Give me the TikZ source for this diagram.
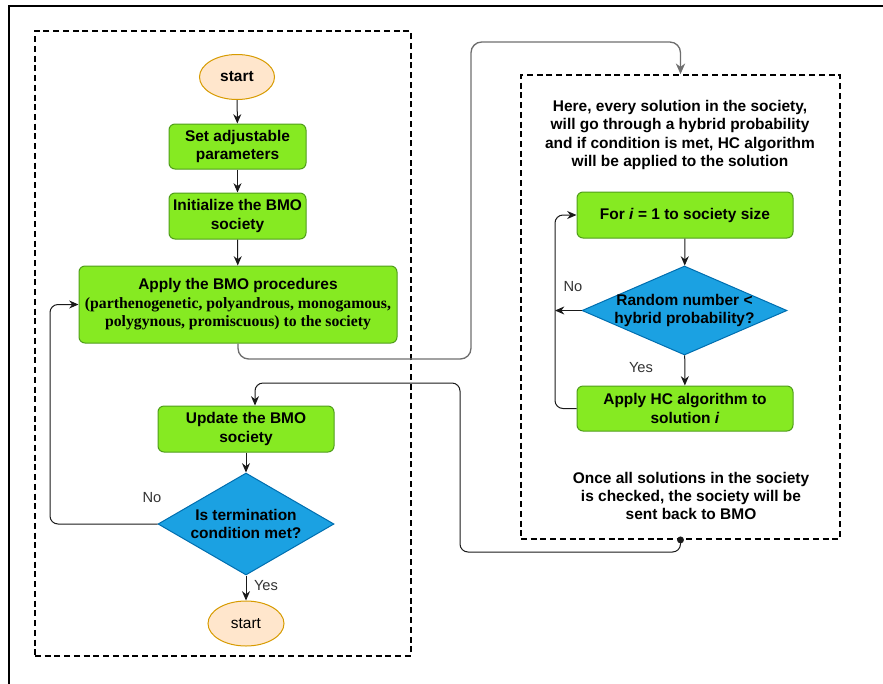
\documentclass[tikz,border=0pt]{standalone}
\usepackage{fontspec}
\setmainfont{Liberation Sans}
\newfontfamily\serifb{Liberation Serif}
\usetikzlibrary{shapes.geometric,arrows.meta,calc}
\newdimen\px \px=0.75pt
\definecolor{gfill}{HTML}{86EA22}
\definecolor{gdraw}{HTML}{4F9E1A}
\definecolor{bfill}{HTML}{1BA1E2}
\definecolor{bdraw}{HTML}{006EAF}
\definecolor{ofill}{HTML}{FFE6CC}
\definecolor{odraw}{HTML}{D79B00}
\definecolor{gline}{HTML}{6E6E6E}
\definecolor{lbl}{HTML}{333333}
\definecolor{cline}{HTML}{1A1A1A}
\tikzset{
  txtf/.style={font=\fontsize{11.6}{13.8}\selectfont\bfseries},
  procbox/.style={rectangle, rounded corners=4.5pt, draw=gdraw, fill=gfill, line width=0.75pt, align=center, inner sep=0pt, txtf},
  decision/.style={diamond, draw=bdraw, fill=bfill, line width=0.75pt, inner sep=0pt},
  dtext/.style={align=center, inner sep=0pt, txtf},
  terminal/.style={ellipse, draw=odraw, fill=ofill, line width=0.75pt, inner sep=0pt, minimum width=75\px, minimum height=45\px},
  dbox/.style={rectangle, draw=black, line width=1.35pt, dash pattern=on 4.5pt off 2.8pt, inner sep=0pt},
  arr/.style={draw=cline, line width=0.75pt, -{Stealth[length=7pt,width=6pt]}},
  garr/.style={draw=gline, line width=1pt, -{Stealth[length=8pt,width=7pt]}},
  lab/.style={text=lbl, font=\fontsize{11}{13.5}\selectfont},
}
\begin{document}
\begin{tikzpicture}[x=0.75pt, y=-0.75pt]
\useasboundingbox (0,0) rectangle (883,683);
% outer frame
\draw[line width=1.5pt] (9,690) -- (9,6) -- (890,6);
% dashed containers
\node[dbox, minimum width=376\px, minimum height=625\px] (lbox) at (223,343.5) {};
\node[dbox, minimum width=319\px, minimum height=464\px] (rbox) at (680.5,307) {};

% left flow
\node[terminal] (start) at (237,77) {\fontsize{11.6}{13.8}\selectfont\bfseries start};
\node[procbox, minimum width=137\px, minimum height=45\px] (setp) at (237.5,146.5) {Set adjustable\\parameters};
\node[procbox, minimum width=137\px, minimum height=46\px] (init) at (237.5,216) {Initialize the BMO\\society};
\node[procbox, minimum width=318\px, minimum height=77\px] (apply) at (238,304.5)
  {Apply the BMO procedures\\{\serifb\fontsize{11.8}{13.8}\selectfont\bfseries (parthenogenetic, polyandrous, monogamous,}\\{\serifb\fontsize{11.8}{13.8}\selectfont\bfseries polygynous, promiscuous) to the society}};
\node[procbox, minimum width=176\px, minimum height=46\px] (upd) at (246,429) {Update the BMO\\society};
\node[decision, minimum width=176\px, minimum height=102\px] (cond) at (246,524) {};
\node[dtext] (condt) at (cond.center) {Is termination\\condition met?};
\node[terminal, minimum width=76\px] (stop) at (246,623.5) {\fontsize{11.6}{13.8}\selectfont start};

\draw[arr] (start) -- (setp);
\draw[arr] (setp) -- (init);
\draw[arr] (init) -- (apply);
\draw[arr] (upd) -- (cond);
\draw[arr] (cond) -- (stop);
\node[lab] (lyes1) at (266,586) {Yes};
\node[lab] (lno1) at (152,498) {No};
\coordinate (lc1) at (50,524);
\draw[arr, rounded corners=6pt] (cond.west) -- (lc1) |- (apply.west);

% right flow
\node[txtf, align=center] (txt1) at (680,135)
  {Here, every solution in the society,\\will go through a hybrid probability\\and if condition is met, HC algorithm\\will be applied to the solution};
\node[procbox, minimum width=216\px, minimum height=46\px] (forb) at (685,215) {For \textit{i} = 1 to society size};
\node[decision, minimum width=205\px, minimum height=89\px] (rand) at (684.5,310.5) {};
\node[dtext] (randt) at (rand.center) {Random number \textless\\hybrid probability?};
\node[procbox, minimum width=216\px, minimum height=45\px] (hc) at (685,408.5) {Apply HC algorithm to\\solution \textit{i}};
\node[txtf, align=center] (txt2) at (691,496)
  {Once all solutions in the society\\is checked, the society will be\\sent back to BMO};

\draw[arr] (forb) -- (rand);
\draw[arr] (rand) -- (hc);
\node[lab] (lyes2) at (641,368) {Yes};
\node[lab] (lno2) at (573,287) {No};
\coordinate (lp) at (555,310.5);
\draw[arr] (rand.west) -- (lp);
\draw[draw=cline, line width=0.75pt, rounded corners=6pt] (hc.west) -| (lp);
\draw[arr, rounded corners=6pt] (lp) |- (forb.west);

% cross connectors
\coordinate (c1) at (471,359);
\coordinate (c2) at (471,42);
\draw[garr, rounded corners=8pt] (apply.south) |- (c1) -- (c2) -| (rbox.north);
\coordinate (r1) at (460,552);
\coordinate (r2) at (460,383);
\coordinate (ut) at ($(upd.north)+(9,0)$);
\fill[cline] (rbox.south) circle (2.6pt);
\draw[arr, rounded corners=6pt] (rbox.south) |- (r1) -- (r2) -| (ut);
\end{tikzpicture}
\end{document}
